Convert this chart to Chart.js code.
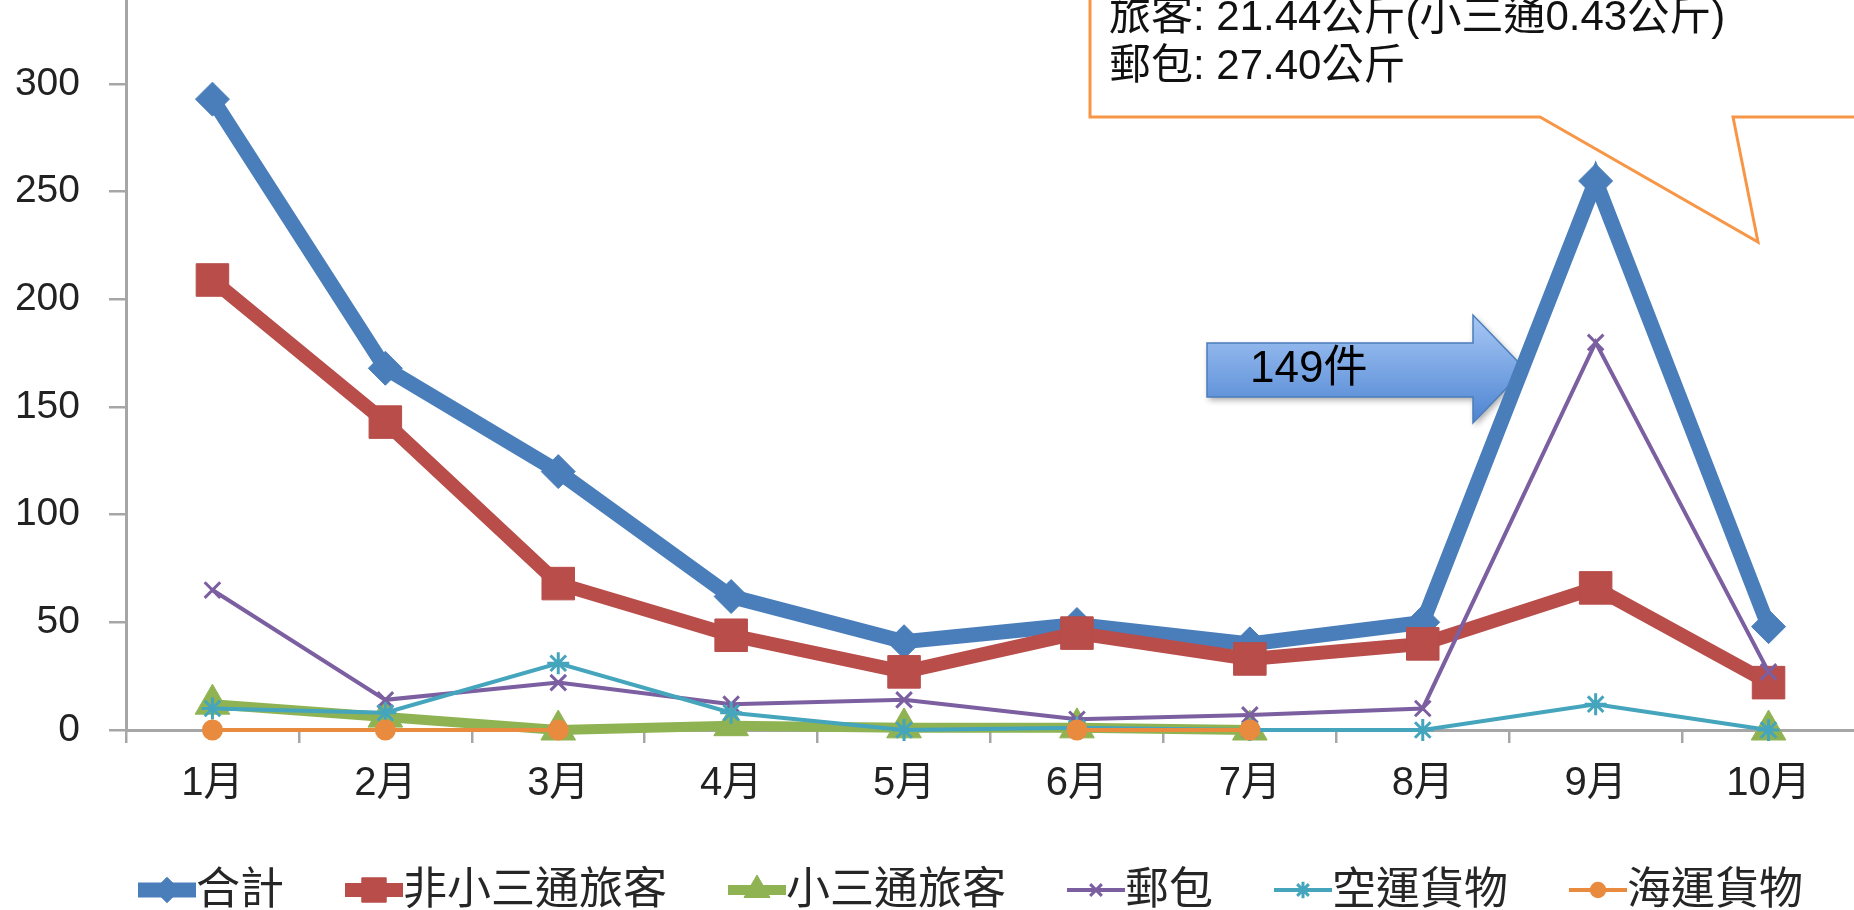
<!DOCTYPE html>
<html>
<head>
<meta charset="utf-8">
<script src="https://cdn.jsdelivr.net/npm/chart.js@4.4.1/dist/chart.umd.min.js"></script>
<style>
  html, body { margin: 0; padding: 0; background: #fff; overflow: hidden; width: 1854px; height: 910px; }
  #wrap { position: absolute; left: 0; top: -76px; }
</style>
</head>
<body>
<div id="wrap"><canvas id="chart" width="1880" height="997"></canvas></div>
<script>
// Data
const months = ['1月', '2月', '3月', '4月', '5月', '6月', '7月', '8月', '9月', '10月']
const totalCount = [293, 168, 120, 62, 41, 49, 40, 50, 255, 48]
const nonMiniLinks = [209, 143, 68, 44, 27, 45, 33, 40, 66, 22]
const miniLinks = [12, 6, 0, 2, 1, 1, 0, null, null, 0]
const parcels = [65, 14, 22, 12, 14, 5, 7, 10, 180, 27]
const airCargo = [10, 8, 31, 8, 0, 1, 0, 0, 12, 0]
const seaCargo = [0, 0, 0, null, null, 0, 0, null, null, null]
const yMin = 0
const yMax = 350
const yStep = 50

const seriesNames = ['合計', '非小三通旅客', '小三通旅客', '郵包', '空運貨物', '海運貨物']
const seriesData = [totalCount, nonMiniLinks, miniLinks, parcels, airCargo, seaCargo]
const seriesColors = ['#4a7ebb', '#b84d4a', '#8fb352', '#7b5fa0', '#44a5bd', '#e98b3f']
const seriesWidths = [15, 14, 10, 4, 4, 4]
const seriesPoints = ['rectRot', 'rect', 'triangle', 'crossRot', 'star', 'circle']
const seriesRadius = [17, 23, 20, 11, 11, 9]

// callout / arrow text
const calloutLines = ['旅客: 21.44公斤(小三通0.43公斤)', '郵包: 27.40公斤']
const arrowText = '149件'

const OY = 76 // canvas shifted up by this much
const CJK = '"Liberation Sans", "Noto Sans CJK TC", sans-serif'

Chart.defaults.font.family = CJK

const datasets = seriesNames.map((name, i) => ({
  label: name,
  data: seriesData[i],
  borderColor: seriesColors[i],
  backgroundColor: seriesColors[i],
  borderWidth: seriesWidths[i],
  pointStyle: seriesPoints[i],
  pointRadius: seriesRadius[i],
  pointHoverRadius: seriesRadius[i],
  pointBackgroundColor: seriesColors[i],
  pointBorderColor: seriesColors[i],
  pointBorderWidth: i >= 3 ? 3 : 1,
  tension: 0,
  fill: false,
  spanGaps: false,
  clip: false,
  order: seriesNames.length - i
}))

// Annotations: arrow (under lines)
const arrowPlugin = {
  id: 'arrowNote',
  beforeDatasetsDraw(chart) {
    const ctx = chart.ctx
    ctx.save()
    ctx.translate(0, OY)
    ctx.beginPath()
    ctx.moveTo(1207, 343)
    ctx.lineTo(1473, 343)
    ctx.lineTo(1473, 315)
    ctx.lineTo(1525, 369)
    ctx.lineTo(1473, 423)
    ctx.lineTo(1473, 397)
    ctx.lineTo(1207, 397)
    ctx.closePath()
    const g = ctx.createLinearGradient(0, 315, 0, 423)
    g.addColorStop(0, '#a8c8f5')
    g.addColorStop(1, '#4d84d2')
    ctx.shadowColor = 'rgba(0,0,0,0.35)'
    ctx.shadowBlur = 6
    ctx.shadowOffsetX = 2
    ctx.shadowOffsetY = 3
    ctx.fillStyle = g
    ctx.fill()
    ctx.shadowColor = 'transparent'
    ctx.lineWidth = 1.5
    ctx.strokeStyle = '#4a7ebb'
    ctx.stroke()
    ctx.fillStyle = '#000'
    ctx.font = '44px ' + CJK
    ctx.textBaseline = 'middle'
    ctx.textAlign = 'left'
    ctx.fillText(arrowText, 1250, 370)
    ctx.restore()
  }
}

// Callout box + legend
const overlayPlugin = {
  id: 'overlay',
  afterDraw(chart) {
    const ctx = chart.ctx
    ctx.save()
    ctx.translate(0, OY)

    // callout
    ctx.beginPath()
    ctx.moveTo(1090, -OY)
    ctx.lineTo(1090, 117)
    ctx.lineTo(1540, 117)
    ctx.lineTo(1758, 242)
    ctx.lineTo(1733, 117)
    ctx.lineTo(1880, 117)
    ctx.lineTo(1880, -OY)
    ctx.fillStyle = '#fff'
    ctx.fill()
    ctx.lineWidth = 3
    ctx.strokeStyle = '#f79646'
    ctx.stroke()
    ctx.fillStyle = '#111'
    ctx.font = '42px ' + CJK
    ctx.textBaseline = 'middle'
    ctx.textAlign = 'left'
    ctx.fillText(calloutLines[0], 1109, 18)
    ctx.fillText(calloutLines[1], 1109, 67)

    // legend
    let x = 138
    const y = 890
    ctx.font = '44px ' + CJK
    chart.data.datasets.forEach((ds, i) => {
      ctx.strokeStyle = ds.borderColor
      ctx.lineWidth = ds.borderWidth
      ctx.beginPath()
      ctx.moveTo(x, y)
      ctx.lineTo(x + 58, y)
      ctx.stroke()
      ctx.fillStyle = ds.borderColor
      ctx.lineWidth = ds.pointBorderWidth
      Chart.helpers.drawPoint(ctx, {
        pointStyle: ds.pointStyle,
        radius: ds.pointRadius * 0.75,
        rotation: 0,
        borderWidth: ds.pointBorderWidth
      }, x + 29, y)
      ctx.fillStyle = '#262626'
      ctx.fillText(ds.label, x + 58, y + 2)
      x += 58 + ctx.measureText(ds.label).width + 61
    })
    ctx.restore()
  }
}

const ctx = document.getElementById('chart').getContext('2d')
new Chart(ctx, {
  type: 'line',
  data: { labels: months, datasets },
  options: {
    responsive: false,
    animation: false,
    events: [],
    layout: { padding: { top: 20, right: 25, left: 0, bottom: 0 } },
    plugins: {
      legend: { display: false },
      tooltip: { enabled: false }
    },
    scales: {
      x: {
        offset: true,
        afterFit(scale) { scale.height = 191 },
        border: { display: true, color: '#a6a6a6', width: 3 },
        grid: { display: true, drawOnChartArea: false, drawTicks: true, tickLength: 13, color: '#a6a6a6', lineWidth: 2.5, offset: true },
        ticks: { color: '#222', font: { size: 40 }, padding: 17, maxRotation: 0, autoSkip: false }
      },
      y: {
        min: yMin,
        max: yMax,
        afterFit(scale) { scale.width = 126 },
        border: { display: true, color: '#a6a6a6', width: 3 },
        grid: { display: true, drawOnChartArea: false, drawTicks: true, tickLength: 17, color: '#a6a6a6', lineWidth: 2.5 },
        ticks: { stepSize: yStep, color: '#222', font: { size: 39 }, padding: 29 }
      }
    }
  },
  plugins: [arrowPlugin, overlayPlugin]
})
</script>
</body>
</html>
